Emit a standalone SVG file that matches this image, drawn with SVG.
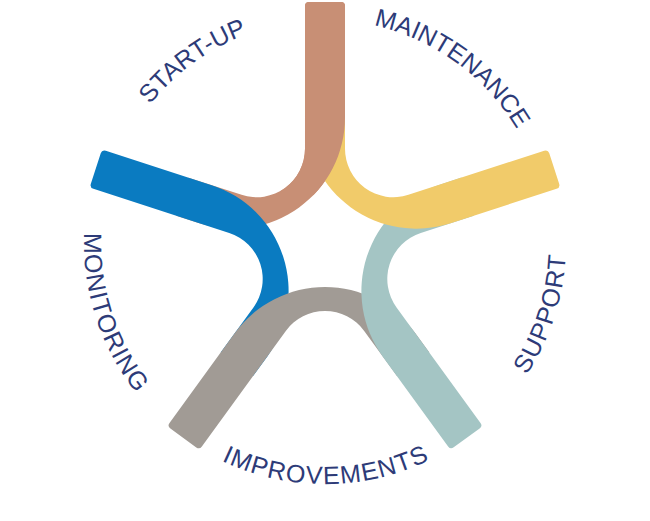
<svg xmlns="http://www.w3.org/2000/svg" width="650" height="521" viewBox="0 0 650 521">
<style>
.lbl{font-family:"Liberation Sans",Arial,sans-serif;font-size:25px;fill:#2D3B78;text-anchor:middle}
.low{letter-spacing:1.1px}
</style>
<defs>
<path id="piece" d="M -155.49 179.97 L -90.02 89.87 A 111.27 111.27 0 0 1 90.02 89.87 L 104.35 109.59 L 71.99 133.11 L 39.19 87.97 A 48.44 48.44 0 0 0 -39.19 87.97 L -123.13 203.49 Q -125.48 206.73 -128.72 204.38 L -154.60 185.56 Q -157.84 183.21 -155.49 179.97 Z"/>
<path id="arcTop" d="M 102 243 A 223 223 0 0 1 548 243" fill="none"/>
<path id="arcBottom" d="M 130.03 101.34 A 241 241 0 1 0 519.97 101.34" fill="none"/>
<clipPath id="topClip"><rect x="280" y="0" width="100" height="195"/></clipPath>
</defs>
<rect width="650" height="521" fill="#FFFFFF"/>
<g id="start-up">
<use href="#piece" transform="translate(325 243) rotate(144)" fill="#C88F75"/>
<text class="lbl"><textPath href="#arcTop" startOffset="30%">START-UP</textPath></text>
</g>
<g id="monitoring">
<use href="#piece" transform="translate(325 243) rotate(72)" fill="#0A7BC1"/>
<text class="lbl low"><textPath href="#arcBottom" startOffset="21.5%">MONITORING</textPath></text>
</g>
<g id="improvements">
<use href="#piece" transform="translate(325 243)" fill="#A19B95"/>
<text class="lbl low"><textPath href="#arcBottom" startOffset="50.1%">IMPROVEMENTS</textPath></text>
</g>
<g id="support">
<use href="#piece" transform="translate(325 243) rotate(-72)" fill="#A4C5C4"/>
<text class="lbl low"><textPath href="#arcBottom" startOffset="78.6%">SUPPORT</textPath></text>
</g>
<g id="maintenance">
<use href="#piece" transform="translate(325 243) rotate(-144)" fill="#F1CB6A"/>
<text class="lbl"><textPath href="#arcTop" startOffset="70%">MAINTENANCE</textPath></text>
</g>
<g id="start-up-overlap" clip-path="url(#topClip)">
<use href="#piece" transform="translate(325 243) rotate(144)" fill="#C88F75"/>
</g>
</svg>
